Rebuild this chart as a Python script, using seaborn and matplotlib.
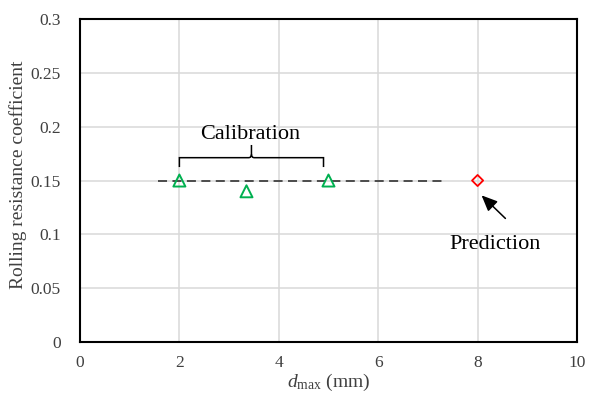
import numpy as np
import pandas as pd
import matplotlib
matplotlib.use("Agg")
import matplotlib.pyplot as plt
from matplotlib.path import Path
from matplotlib.patches import PathPatch
import seaborn as sns

# Calibration and prediction points
calib_d = [2.0, 3.35, 5.0]
calib_mu = [0.15, 0.14, 0.15]
pred_d = [8.0]
pred_mu = [0.15]
# Calibrated value spanning the reference line
line_d = [1.57, 7.28]
line_mu = [0.15, 0.15]

sns.set_theme(style="whitegrid")
plt.rcParams["font.family"] = ["Liberation Serif", "DejaVu Serif"]
plt.rcParams["mathtext.fontset"] = "custom"
plt.rcParams["mathtext.it"] = "Liberation Serif:italic"
plt.rcParams["mathtext.rm"] = "Liberation Serif"

fig = plt.figure(figsize=(5.89, 3.95), dpi=100)
ax = fig.add_axes([0.1358, 0.134, 0.8438, 0.818])

df_calib = pd.DataFrame({"d": calib_d, "mu": calib_mu})
df_pred = pd.DataFrame({"d": pred_d, "mu": pred_mu})

sns.lineplot(x=line_d, y=line_mu, ax=ax, color="#404040", lw=1.3,
             linestyle=(0, (5, 3)), zorder=2)
sns.scatterplot(data=df_calib, x="d", y="mu", ax=ax, marker="^", s=75,
                facecolor="none", edgecolor="#00B050", linewidth=1.4, zorder=3)
sns.scatterplot(data=df_pred, x="d", y="mu", ax=ax, marker="D", s=32,
                facecolor="none", edgecolor="#FF0000", linewidth=1.3, zorder=3)

ax.set_xlim(0, 10)
ax.set_ylim(0, 0.3)
ax.set_xticks([0, 2, 4, 6, 8, 10])
ax.set_yticks([0, 0.05, 0.1, 0.15, 0.2, 0.25, 0.3])
ax.set_yticklabels(["0", "0.05", "0.1", "0.15", "0.2", "0.25", "0.3"])
ax.grid(True, color="#d9d9d9", lw=1.1)
for s in ax.spines.values():
    s.set_color("black")
    s.set_linewidth(1.5)
ax.tick_params(axis="both", labelsize=12.5, colors="#404040", direction="in",
               length=4, width=1)
ax.tick_params(axis="y", pad=14)
ax.tick_params(axis="x", pad=9)
ax.set_xlabel(r"$d_{\mathrm{max}}$ (mm)", fontsize=14, color="#404040", labelpad=1)
ax.set_ylabel("Rolling resistance coefficient", fontsize=14, color="#404040")
ax.yaxis.set_label_coords(-0.106, 0.517)

# Curly brace over the calibration points
x0, x1 = 2.0, 4.9
xm = (x0 + x1) / 2
yb, yh, yt = 0.1625, 0.1712, 0.183
r = 0.06
verts = [
    (x0, yb), (x0, yh), (x0, yh), (x0 + r, yh),
    (xm - r, yh), (xm, yh), (xm, yh + 0.003), (xm, yt),
    (xm, yh + 0.003), (xm, yh), (xm + r, yh),
    (x1 - r, yh), (x1, yh), (x1, yh), (x1, yb),
]
codes = [Path.MOVETO, Path.LINETO, Path.CURVE3, Path.CURVE3,
         Path.LINETO, Path.CURVE3, Path.CURVE3, Path.LINETO,
         Path.MOVETO, Path.CURVE3, Path.CURVE3,
         Path.LINETO, Path.CURVE3, Path.CURVE3, Path.LINETO]
ax.add_patch(PathPatch(Path(verts, codes), fill=False, lw=1.1, color="black", zorder=4))
ax.text(3.42, 0.193, "Calibration", fontsize=16, ha="center", va="center", color="black")

ax.annotate("", xy=(8.04, 0.138), xytext=(8.6, 0.113),
            arrowprops=dict(arrowstyle="-|>,head_length=0.8,head_width=0.35",
                            color="black", lw=1.1))
ax.text(8.35, 0.091, "Prediction", fontsize=16, ha="center", va="center", color="black")

fig.savefig("out.png", dpi=100)
